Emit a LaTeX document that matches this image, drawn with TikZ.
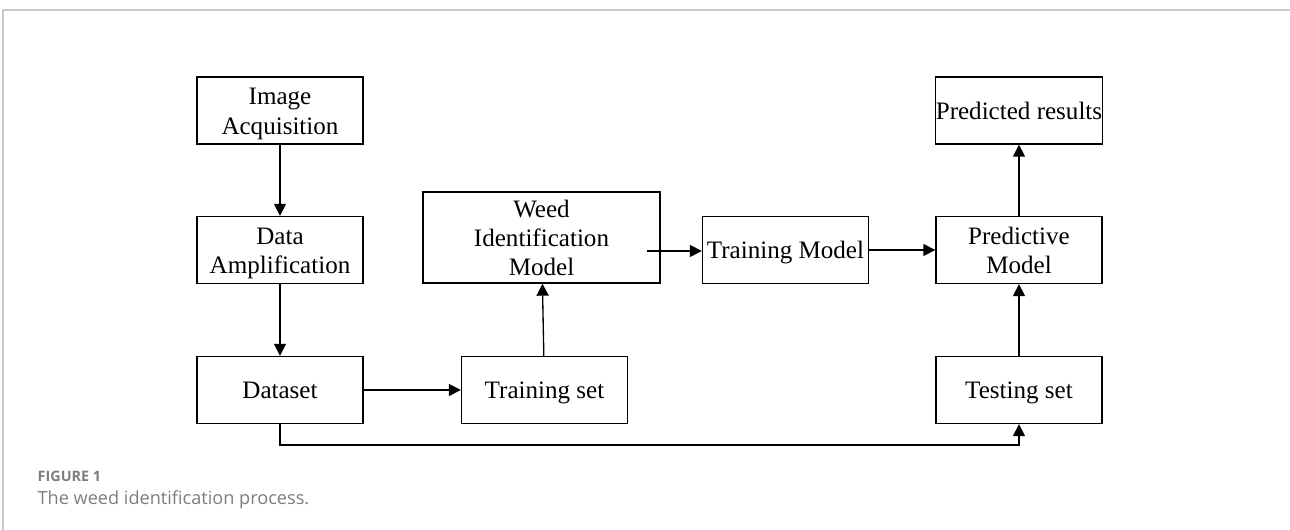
\documentclass[tikz,border=0pt]{standalone}
\usepackage{fontspec}
\setmainfont{Liberation Serif}
\newfontfamily\capfont{Open Sans}
\usetikzlibrary{arrows.meta}
\definecolor{framegray}{RGB}{200,200,200}
\definecolor{capgray}{RGB}{125,125,125}
\newcommand\boxstrut{\rule[-3.5pt]{0pt}{20pt}}
\newcommand\firstlinestrut{\rule{0pt}{17.6pt}}
\newcommand\lastlinestrut{\rule[-4.1pt]{0pt}{1pt}}
\begin{document}
\begin{tikzpicture}[x=0.75pt, y=-0.75pt, line width=1pt, >={Triangle[length=9pt,width=9pt]},
  flow box/.style={rectangle,draw,minimum width=124.5pt,minimum height=50.25pt,inner sep=0pt,align=center,
    font=\fontsize{18.8pt}{22pt}\selectfont},
  one line/.style={flow box,execute at begin node=\boxstrut},
  multi line/.style={flow box}]
\useasboundingbox (0,0) rectangle (1290,530);
\draw[framegray] (1290,10) -- (3,10) -- (3,530);
\begin{scope}
\node[multi line] (acq) at (280,110.5) {\firstlinestrut Image\\Acquisition\lastlinestrut};
\node[multi line] (amp) at (280,250) {\firstlinestrut Data\\Amplification\lastlinestrut};
\node[one line] (data) at (280,390) {Dataset};
\node[one line] (train) at (544.5,390) {Training set};
\node[multi line,minimum width=177.75pt,minimum height=68.25pt] (weed) at (541.5,237.5) {\firstlinestrut Weed\\Identification\\Model\lastlinestrut};
\node[one line] (tmodel) at (785.5,250) {Training Model};
\node[multi line] (pmodel) at (1019,250) {\firstlinestrut Predictive\\Model\lastlinestrut};
\node[one line] (result) at (1019,110.5) {Predicted results};
\node[one line] (test) at (1019,390) {Testing set};
\coordinate (wout) at (647,251);
\coordinate (turn) at (280,445);
\end{scope}
\begin{scope}[->]
\draw (acq) edge node{} (amp);
\draw (amp) edge node{} (data);
\draw (data) edge node{} (train);
\draw (train) edge node{} (weed);
\draw (wout) -- (wout -| tmodel.west);
\draw (tmodel) edge node{} (pmodel);
\draw (pmodel) edge node{} (result);
\draw (test) edge node{} (pmodel);
\draw (data.south) -- (turn) -| (test.south);
\end{scope}
\begin{scope}[every node/.style={anchor=base west,inner sep=0pt,text=capgray}]
\node (fig) at (37,482) {\capfont\bfseries\fontsize{10.8pt}{13pt}\selectfont FIGURE 1};
\node (cap) at (37,505) {\capfont\fontsize{13.6pt}{16pt}\selectfont The weed identification process.};
\end{scope}
\end{tikzpicture}
\end{document}
